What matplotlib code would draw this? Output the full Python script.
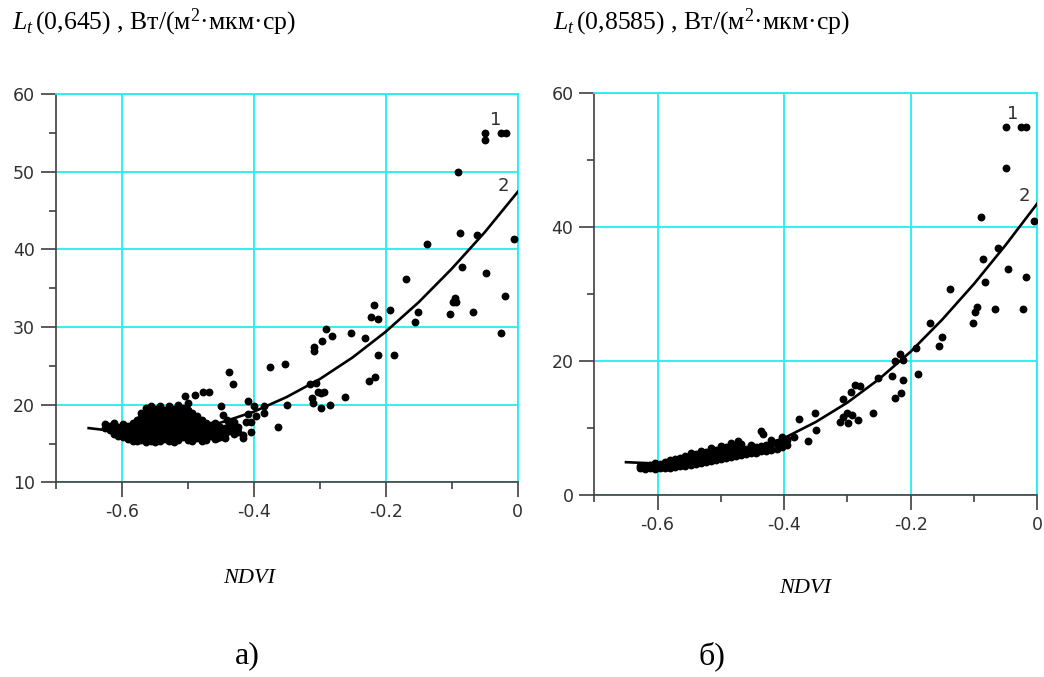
import numpy as np
import matplotlib.pyplot as plt
from matplotlib.ticker import FixedLocator, FixedFormatter

plt.rcParams['font.family'] = 'DejaVu Sans'
plt.rcParams['mathtext.fontset'] = 'custom'
plt.rcParams['mathtext.rm'] = 'Liberation Serif'
plt.rcParams['mathtext.it'] = 'Liberation Serif:italic'

# ---- panel a): L_t(0,645) vs NDVI ----
a_points = [
    # dense cluster
    (-0.625, 17.5), (-0.625, 17.0), (-0.618, 17.3), (-0.618, 16.7),
    (-0.612, 17.6), (-0.612, 16.9), (-0.612, 16.3),
    (-0.605, 17.2), (-0.605, 16.6), (-0.605, 16.0),
    (-0.598, 17.5), (-0.598, 16.8), (-0.598, 16.2), (-0.598, 15.8),
    (-0.590, 17.3), (-0.590, 16.6), (-0.590, 16.0), (-0.590, 15.6),
    (-0.583, 17.7), (-0.583, 17.0), (-0.583, 16.3), (-0.583, 15.6), (-0.583, 15.3),
    (-0.576, 18.0), (-0.576, 17.3), (-0.576, 16.6), (-0.576, 15.9), (-0.576, 15.3),
    (-0.570, 19.0), (-0.570, 18.4), (-0.570, 17.6), (-0.570, 16.9), (-0.570, 16.2), (-0.570, 15.5),
    (-0.563, 19.6), (-0.563, 18.8), (-0.563, 17.9), (-0.563, 17.2), (-0.563, 16.5), (-0.563, 15.8), (-0.563, 15.2),
    (-0.556, 19.9), (-0.556, 19.2), (-0.556, 18.3), (-0.556, 17.5), (-0.556, 16.8), (-0.556, 16.1), (-0.556, 15.4),
    (-0.549, 19.4), (-0.549, 18.6), (-0.549, 17.9), (-0.549, 17.1), (-0.549, 16.4), (-0.549, 15.7), (-0.549, 15.2),
    (-0.542, 19.8), (-0.542, 18.9), (-0.542, 18.1), (-0.542, 17.4), (-0.542, 16.7), (-0.542, 16.0), (-0.542, 15.3),
    (-0.535, 19.3), (-0.535, 18.5), (-0.535, 17.7), (-0.535, 17.0), (-0.535, 16.3), (-0.535, 15.6),
    (-0.528, 19.9), (-0.528, 19.0), (-0.528, 18.2), (-0.528, 17.5), (-0.528, 16.7), (-0.528, 16.0), (-0.528, 15.3),
    (-0.521, 19.5), (-0.521, 18.7), (-0.521, 17.9), (-0.521, 17.2), (-0.521, 16.5), (-0.521, 15.8), (-0.521, 15.2),
    (-0.514, 20.0), (-0.514, 19.2), (-0.514, 18.4), (-0.514, 17.6), (-0.514, 16.9), (-0.514, 16.2), (-0.514, 15.5),
    (-0.507, 19.6), (-0.507, 18.8), (-0.507, 18.0), (-0.507, 17.3), (-0.507, 16.6), (-0.507, 15.8),
    (-0.500, 20.2), (-0.500, 19.3), (-0.500, 18.5), (-0.500, 17.7), (-0.500, 17.0), (-0.500, 16.2), (-0.500, 15.5),
    (-0.493, 19.0), (-0.493, 18.2), (-0.493, 17.4), (-0.493, 16.7), (-0.493, 16.0), (-0.493, 15.3),
    (-0.486, 18.6), (-0.486, 17.8), (-0.486, 17.1), (-0.486, 16.4), (-0.486, 15.7),
    (-0.479, 18.0), (-0.479, 17.3), (-0.479, 16.6), (-0.479, 15.9), (-0.479, 15.3),
    (-0.472, 17.6), (-0.472, 16.9), (-0.472, 16.2), (-0.472, 15.5),
    (-0.465, 17.4), (-0.465, 16.7), (-0.465, 16.0),
    (-0.458, 17.6), (-0.458, 16.9), (-0.458, 16.2), (-0.458, 15.6),
    (-0.451, 17.2), (-0.451, 16.5), (-0.451, 15.9),
    (-0.444, 17.0), (-0.444, 16.3), (-0.437, 17.4), (-0.437, 16.6),
    (-0.430, 17.8), (-0.430, 16.9), (-0.430, 16.3), (-0.423, 17.2), (-0.423, 16.5),
    # scattered points
    (-0.504, 21.1), (-0.489, 21.3), (-0.477, 21.7), (-0.467, 21.7),
    (-0.449, 19.8), (-0.447, 18.7), (-0.444, 15.7), (-0.456, 15.7),
    (-0.441, 18.0), (-0.431, 17.4), (-0.438, 24.2), (-0.432, 22.7),
    (-0.409, 20.5), (-0.399, 19.8), (-0.384, 19.8), (-0.350, 20.0),
    (-0.385, 18.9), (-0.396, 18.5), (-0.409, 18.8), (-0.412, 17.8), (-0.404, 17.8),
    (-0.404, 16.5), (-0.416, 16.1), (-0.416, 15.7), (-0.363, 17.2),
    (-0.376, 24.8), (-0.352, 25.3),
    (-0.314, 22.7), (-0.306, 22.8), (-0.302, 21.7), (-0.294, 21.7), (-0.298, 21.5),
    (-0.312, 20.9), (-0.310, 20.2), (-0.298, 19.6), (-0.284, 20.0), (-0.261, 21.0),
    (-0.290, 29.7), (-0.281, 28.9), (-0.296, 28.2), (-0.308, 27.4), (-0.309, 26.9),
    (-0.252, 29.2), (-0.232, 28.6), (-0.212, 26.4), (-0.188, 26.4),
    (-0.216, 23.6), (-0.225, 23.0),
    (-0.217, 32.8), (-0.193, 32.2), (-0.223, 31.3), (-0.212, 31.0),
    (-0.169, 36.2), (-0.151, 32.0), (-0.155, 30.6), (-0.1375, 40.7),
    (-0.103, 31.7), (-0.095, 33.8), (-0.098, 33.2), (-0.094, 33.2),
    (-0.0837, 37.7), (-0.068, 32.0), (-0.0474, 37.0), (-0.025, 29.3), (-0.0196, 34.0),
    (-0.087, 42.1), (-0.061, 41.8), (-0.006, 41.4), (-0.090, 49.9),
    (-0.049, 55.0), (-0.049, 54.1), (-0.026, 55.0), (-0.018, 55.0),
]
a_curve_x = [-0.65, -0.6, -0.55, -0.5, -0.45, -0.4, -0.35, -0.3, -0.25, -0.2, -0.15, -0.1, -0.05, 0.0]
a_curve_y = [17.0, 16.5, 16.4, 16.8, 17.7, 19.1, 21.0, 23.3, 26.1, 29.4, 33.2, 37.5, 42.2, 47.4]
a_yticks = [10, 20, 30, 40, 50, 60]
a_yminor = [15, 25, 35, 45, 55]

# ---- panel б): L_t(0,8585) vs NDVI ----
b_points = [
    # dense band
    (-0.628, 4.0), (-0.628, 4.3), (-0.620, 3.9), (-0.620, 4.3),
    (-0.612, 4.0), (-0.612, 4.5), (-0.604, 3.9), (-0.604, 4.4), (-0.604, 4.8),
    (-0.596, 4.0), (-0.596, 4.6), (-0.588, 4.0), (-0.588, 4.5), (-0.588, 5.0),
    (-0.580, 4.1), (-0.580, 4.7), (-0.580, 5.2), (-0.572, 4.2), (-0.572, 4.8), (-0.572, 5.4),
    (-0.564, 4.3), (-0.564, 4.9), (-0.564, 5.6), (-0.556, 4.4), (-0.556, 5.1), (-0.556, 5.8),
    (-0.548, 4.5), (-0.548, 5.2), (-0.548, 5.9), (-0.548, 6.3),
    (-0.540, 4.7), (-0.540, 5.4), (-0.540, 6.1),
    (-0.532, 4.8), (-0.532, 5.5), (-0.532, 6.3), (-0.532, 6.6),
    (-0.524, 5.0), (-0.524, 5.7), (-0.524, 6.4),
    (-0.516, 5.1), (-0.516, 5.8), (-0.516, 6.6), (-0.516, 7.0),
    (-0.508, 5.2), (-0.508, 6.0), (-0.508, 6.7),
    (-0.500, 5.4), (-0.500, 6.1), (-0.500, 6.9), (-0.500, 7.3),
    (-0.492, 5.5), (-0.492, 6.3), (-0.492, 7.1),
    (-0.484, 5.7), (-0.484, 6.5), (-0.484, 7.4), (-0.484, 7.8),
    (-0.476, 5.8), (-0.476, 6.6), (-0.476, 7.5), (-0.473, 8.0),
    (-0.468, 6.0), (-0.468, 6.8), (-0.468, 7.6), (-0.460, 6.1), (-0.460, 6.9),
    (-0.452, 6.2), (-0.452, 7.0), (-0.452, 7.5), (-0.444, 6.3), (-0.444, 7.1),
    (-0.436, 6.5), (-0.436, 7.3), (-0.428, 6.6), (-0.428, 7.5),
    (-0.420, 6.7), (-0.420, 7.6), (-0.420, 8.2), (-0.412, 6.9), (-0.412, 7.8),
    (-0.404, 7.1), (-0.404, 8.0), (-0.404, 8.6), (-0.396, 7.4), (-0.396, 8.3),
    # scattered points
    (-0.437, 9.6), (-0.433, 9.1), (-0.396, 8.2), (-0.404, 7.5),
    (-0.376, 11.3), (-0.384, 8.6), (-0.351, 12.3), (-0.349, 9.7), (-0.362, 8.1),
    (-0.301, 12.2), (-0.307, 11.7), (-0.292, 11.9), (-0.312, 10.9), (-0.299, 10.7), (-0.284, 11.2),
    (-0.288, 16.4), (-0.280, 16.3), (-0.294, 15.4), (-0.307, 14.4), (-0.260, 12.3),
    (-0.230, 17.8), (-0.251, 17.4), (-0.212, 17.1), (-0.215, 15.2), (-0.225, 14.5),
    (-0.188, 18.1), (-0.217, 21.0), (-0.224, 20.0), (-0.212, 20.1), (-0.192, 21.9),
    (-0.150, 23.6), (-0.155, 22.3), (-0.169, 25.7),
    (-0.095, 28.0), (-0.099, 27.3), (-0.101, 25.7), (-0.067, 27.8), (-0.023, 27.8),
    (-0.138, 30.8), (-0.082, 31.8), (-0.018, 32.6), (-0.046, 33.8),
    (-0.086, 35.2), (-0.062, 36.9), (-0.089, 41.5), (-0.005, 40.9),
    (-0.049, 48.8), (-0.049, 54.9), (-0.025, 54.9), (-0.017, 54.9),
]
b_curve_x = [-0.65, -0.6, -0.55, -0.5, -0.45, -0.4, -0.35, -0.3, -0.25, -0.2, -0.15, -0.1, -0.05, 0.0]
b_curve_y = [4.9, 4.7, 5.0, 5.9, 7.0, 8.5, 10.9, 13.8, 17.3, 21.4, 26.2, 31.5, 37.3, 43.5]
b_yticks = [0, 20, 40, 60]
b_yminor = [10, 30, 50]

x_ticks = [-0.6, -0.4, -0.2, 0.0]
x_ticklabels = ['-0.6', '-0.4', '-0.2', '0']
x_minor = [-0.7, -0.5, -0.3, -0.1]

grid_c = '#22eeee'
axis_c = '#404040'

fig = plt.figure(figsize=(10.44, 6.77), dpi=100)
ax1 = fig.add_axes([0.0533, 0.2873, 0.4426, 0.5739])
ax2 = fig.add_axes([0.5693, 0.2688, 0.4242, 0.5938])


def draw_panel(ax, points, cx, cy, yticks, yminor, ylim, lbl1, lbl2):
    pts = np.array(points)
    ax.scatter(pts[:, 0], pts[:, 1], s=32, color='black', linewidths=0, zorder=3)
    ax.plot(cx, cy, color='black', lw=1.9, zorder=4)
    ax.set_xlim(-0.7, 0)
    ax.set_ylim(*ylim)
    ax.xaxis.set_major_locator(FixedLocator(x_ticks))
    ax.xaxis.set_major_formatter(FixedFormatter(x_ticklabels))
    ax.xaxis.set_minor_locator(FixedLocator(x_minor))
    ax.yaxis.set_major_locator(FixedLocator(yticks))
    ax.yaxis.set_minor_locator(FixedLocator(yminor))
    ax.grid(True, which='major', color=grid_c, lw=1.3, zorder=1)
    ax.set_axisbelow(True)
    for side in ['top', 'right']:
        ax.spines[side].set_color(grid_c)
        ax.spines[side].set_linewidth(1.3)
    for side in ['left', 'bottom']:
        ax.spines[side].set_color(axis_c)
        ax.spines[side].set_linewidth(1.2)
    ax.tick_params(which='major', length=11, width=1.2, color=axis_c,
                   labelsize=12.5, labelcolor='#303030', pad=4)
    ax.tick_params(which='minor', length=5, width=1.2, color=axis_c)
    ax.text(lbl1[0], lbl1[1], '1', fontsize=13, color='#303030', ha='center', va='center')
    ax.text(lbl2[0], lbl2[1], '2', fontsize=13, color='#303030', ha='center', va='center')


draw_panel(ax1, a_points, a_curve_x, a_curve_y, a_yticks, a_yminor, (10, 60),
           (-0.033, 56.6), (-0.021, 48.2))
draw_panel(ax2, b_points, b_curve_x, b_curve_y, b_yticks, b_yminor, (0, 60),
           (-0.039, 56.8), (-0.021, 44.6))

serif = 'Liberation Serif'
fig.text(0.0115, 0.957, r'$L_t\,$(0,645) , Вт/(м$^2$·мкм·ср)',
         fontsize=18.5, family=serif, va='baseline', ha='left')
fig.text(0.5297, 0.957, r'$L_t\,$(0,8585) , Вт/(м$^2$·мкм·ср)',
         fontsize=18.5, family=serif, va='baseline', ha='left')

fig.text(0.2385, 0.146, 'NDVI', fontsize=16, family=serif, style='italic', ha='center', va='center')
fig.text(0.771, 0.131, 'NDVI', fontsize=16, family=serif, style='italic', ha='center', va='center')
fig.text(0.2365, 0.031, 'а)', fontsize=23, family=serif, ha='center', va='center')
fig.text(0.682, 0.031, 'б)', fontsize=23, family=serif, ha='center', va='center')

fig.savefig('out.png', dpi=100)
